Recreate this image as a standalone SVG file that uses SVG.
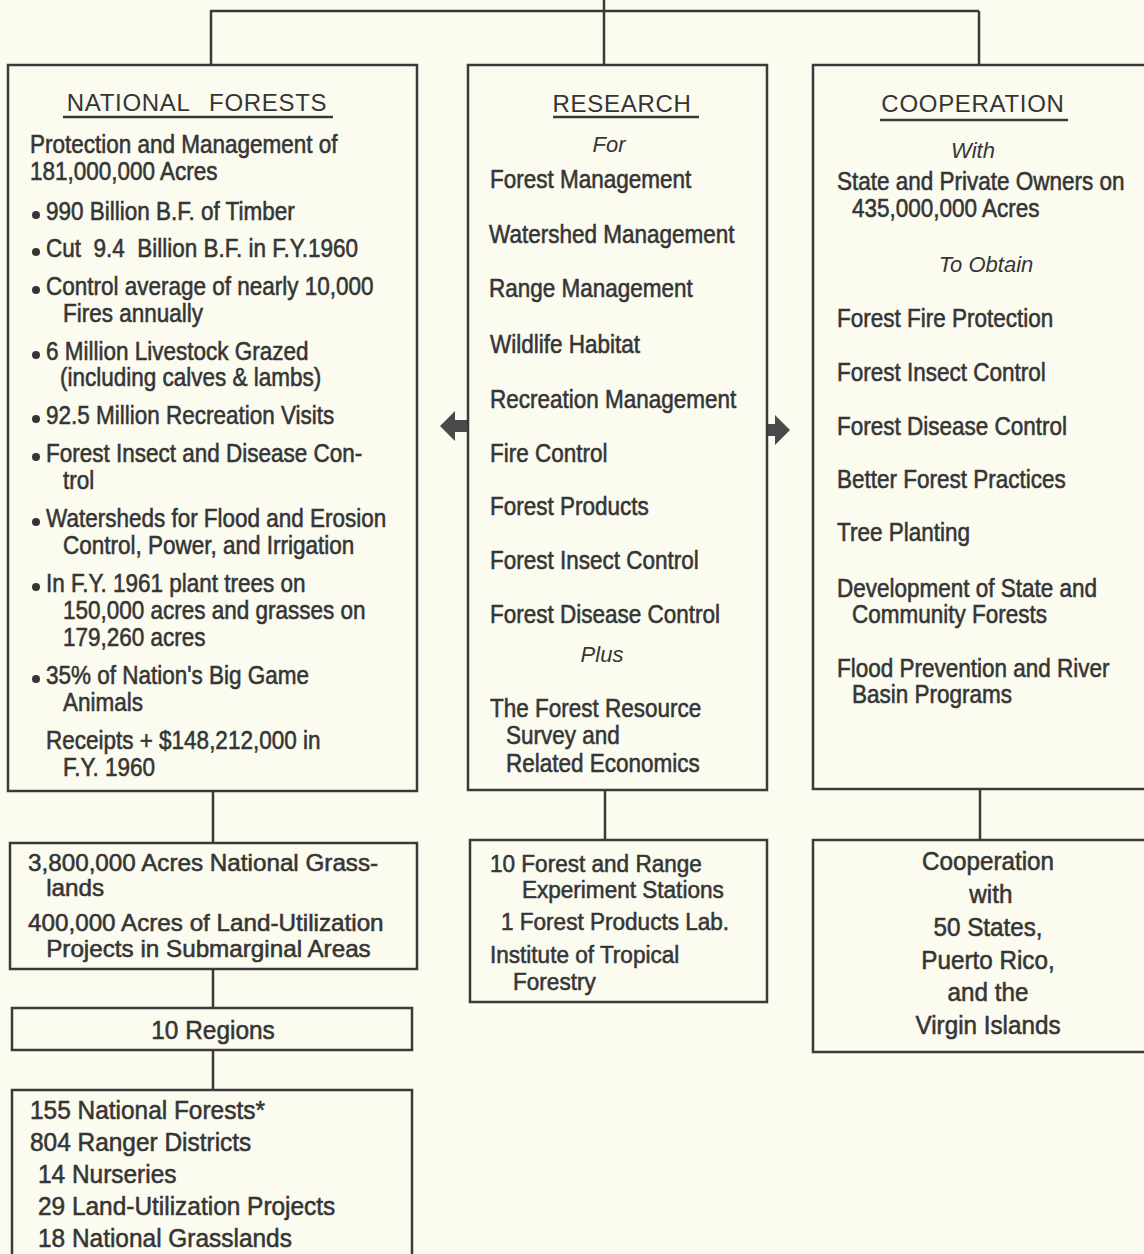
<svg xmlns="http://www.w3.org/2000/svg" width="1144" height="1254" viewBox="0 0 1144 1254">
<style>
.bg{fill:#fbfbf0}
.box{fill:none;stroke:#3a3a3a;stroke-width:2.5}
.ln{fill:none;stroke:#3a3a3a;stroke-width:2.5}
.arr{fill:#4a4a4a;stroke:none}
text{font-family:"Liberation Sans",Arial,sans-serif;fill:#353535}
.t{font-size:25px;stroke:#353535;stroke-width:0.55}
.b{font-size:26px;stroke:#353535;stroke-width:0.55}
.s{font-size:24px;stroke:#353535;stroke-width:0.55}
.ttl{font-size:24px;letter-spacing:0.7px}
.it{font-size:22px;font-style:italic}
.c{text-anchor:middle}
.dot{fill:#353535}
</style>
<rect class="bg" x="0" y="0" width="1144" height="1254"/>

<g id="connectors">
  <path class="ln" d="M604,0 V11 M210,11 H979 M211,11 V65 M604,11 V65 M979,11 V65"/>
  <path class="ln" d="M213,791 V843 M213,969 V1008 M213,1050 V1090"/>
  <path class="ln" d="M605,790 V840"/>
  <path class="ln" d="M980,789 V840"/>
  <polygon class="arr" points="440,426 455,411 455,420 468,420 468,432 455,432 455,441"/>
  <polygon class="arr" points="767,424 775,424 775,415 790,430 775,445 775,436 767,436"/>
</g>

<g id="national-forests">
  <rect class="box" x="8" y="65" width="409" height="726"/>
  <text class="ttl c" x="197" y="111" word-spacing="12">NATIONAL FORESTS</text>
  <path class="ln" d="M63,117 H333" stroke-width="2"/>
  <g class="dot">
    <circle cx="36" cy="215" r="4"/>
    <circle cx="36" cy="252" r="4"/>
    <circle cx="36" cy="290" r="4"/>
    <circle cx="36" cy="355" r="4"/>
    <circle cx="36" cy="419" r="4"/>
    <circle cx="36" cy="457" r="4"/>
    <circle cx="36" cy="522" r="4"/>
    <circle cx="36" cy="587" r="4"/>
    <circle cx="36" cy="679" r="4"/>
  </g>
  <g transform="translate(30,0) scale(0.9,1)">
    <text class="t" x="0" y="153">Protection and Management of</text>
    <text class="t" x="0" y="180">181,000,000 Acres</text>
    <text class="t" x="17.8" y="220">990 Billion B.F. of Timber</text>
    <text class="t" x="17.8" y="257" xml:space="preserve">Cut  9.4  Billion B.F. in F.Y.1960</text>
    <text class="t" x="17.8" y="295">Control average of nearly 10,000</text>
    <text class="t" x="36.7" y="322">Fires annually</text>
    <text class="t" x="17.8" y="360">6 Million Livestock Grazed</text>
    <text class="t" x="33.3" y="386">(including calves &amp; lambs)</text>
    <text class="t" x="17.8" y="424">92.5 Million Recreation Visits</text>
    <text class="t" x="17.8" y="462">Forest Insect and Disease Con-</text>
    <text class="t" x="36.7" y="489">trol</text>
    <text class="t" x="17.8" y="527">Watersheds for Flood and Erosion</text>
    <text class="t" x="36.7" y="554">Control, Power, and Irrigation</text>
    <text class="t" x="17.8" y="592">In F.Y. 1961 plant trees on</text>
    <text class="t" x="36.7" y="619">150,000 acres and grasses on</text>
    <text class="t" x="36.7" y="646">179,260 acres</text>
    <text class="t" x="17.8" y="684">35% of Nation's Big Game</text>
    <text class="t" x="36.7" y="711">Animals</text>
    <text class="t" x="17.8" y="749">Receipts + $148,212,000 in</text>
    <text class="t" x="36.7" y="776">F.Y. 1960</text>
  </g>
</g>

<g id="research">
  <rect class="box" x="468" y="65" width="299" height="725"/>
  <text class="ttl c" x="622" y="112">RESEARCH</text>
  <path class="ln" d="M553,117 H699" stroke-width="2"/>
  <text class="it c" x="609" y="152">For</text>
  <text class="it c" x="602" y="662">Plus</text>
  <g transform="translate(490,0) scale(0.9,1)">
    <text class="t" x="0" y="188">Forest Management</text>
    <text class="t" x="-1" y="243">Watershed Management</text>
    <text class="t" x="-1" y="297">Range Management</text>
    <text class="t" x="0" y="353">Wildlife Habitat</text>
    <text class="t" x="0" y="408">Recreation Management</text>
    <text class="t" x="0" y="462">Fire Control</text>
    <text class="t" x="0" y="515">Forest Products</text>
    <text class="t" x="0" y="569">Forest Insect Control</text>
    <text class="t" x="0" y="623">Forest Disease Control</text>
    <text class="t" x="0" y="717">The Forest Resource</text>
    <text class="t" x="17.8" y="744">Survey and</text>
    <text class="t" x="17.8" y="772">Related Economics</text>
  </g>
</g>

<g id="cooperation">
  <rect class="box" x="813" y="65" width="350" height="724"/>
  <text class="ttl c" x="973" y="112">COOPERATION</text>
  <path class="ln" d="M880,120 H1068" stroke-width="2"/>
  <text class="it c" x="973" y="158">With</text>
  <text class="it c" x="986" y="272">To Obtain</text>
  <g transform="translate(837,0) scale(0.9,1)">
    <text class="t" x="0" y="190">State and Private Owners on</text>
    <text class="t" x="16.7" y="217">435,000,000 Acres</text>
    <text class="t" x="0" y="327">Forest Fire Protection</text>
    <text class="t" x="0" y="381">Forest Insect Control</text>
    <text class="t" x="0" y="435">Forest Disease Control</text>
    <text class="t" x="0" y="488">Better Forest Practices</text>
    <text class="t" x="0" y="541">Tree Planting</text>
    <text class="t" x="0" y="597">Development of State and</text>
    <text class="t" x="16.7" y="623">Community Forests</text>
    <text class="t" x="0" y="677">Flood Prevention and River</text>
    <text class="t" x="16.7" y="703">Basin Programs</text>
  </g>
</g>

<g id="grasslands">
  <rect class="box" x="10" y="843" width="407" height="126"/>
  <g transform="translate(28,0) scale(1.01,1)">
    <text class="s" x="0" y="871">3,800,000 Acres National Grass-</text>
    <text class="s" x="18" y="896">lands</text>
    <text class="s" x="0" y="931">400,000 Acres of Land-Utilization</text>
    <text class="s" x="18" y="957">Projects in Submarginal  Areas</text>
  </g>
</g>

<g id="regions">
  <rect class="box" x="12" y="1008" width="400" height="42"/>
  <g transform="translate(213,0) scale(0.94,1)">
    <text class="b c" x="0" y="1039">10 Regions</text>
  </g>
</g>

<g id="units">
  <rect class="box" x="12" y="1090" width="400" height="180"/>
  <g transform="translate(30,0) scale(0.94,1)">
    <text class="b" x="0" y="1119">155 National Forests*</text>
    <text class="b" x="0" y="1151">804 Ranger Districts</text>
    <text class="b" x="8.5" y="1183">14 Nurseries</text>
    <text class="b" x="8.5" y="1215">29 Land-Utilization Projects</text>
    <text class="b" x="8.5" y="1247">18 National Grasslands</text>
  </g>
</g>

<g id="stations">
  <rect class="box" x="470" y="840" width="297" height="162"/>
  <g transform="translate(490,0) scale(0.94,1)">
    <text class="s" x="0" y="872">10 Forest and Range</text>
    <text class="s" x="34" y="898">Experiment Stations</text>
    <text class="s" x="11.7" y="930">1 Forest Products Lab.</text>
    <text class="s" x="0" y="963">Institute of Tropical</text>
    <text class="s" x="24.5" y="990">Forestry</text>
  </g>
</g>

<g id="states">
  <rect class="box" x="813" y="840" width="350" height="212"/>
  <g transform="translate(988,0) scale(0.97,1)">
    <text class="t c" x="0" y="870">Cooperation</text>
    <text class="t c" x="3" y="903">with</text>
    <text class="t c" x="0" y="936">50 States,</text>
    <text class="t c" x="0" y="969">Puerto Rico,</text>
    <text class="t c" x="0" y="1001">and the</text>
    <text class="t c" x="0" y="1034">Virgin Islands</text>
  </g>
</g>
</svg>
